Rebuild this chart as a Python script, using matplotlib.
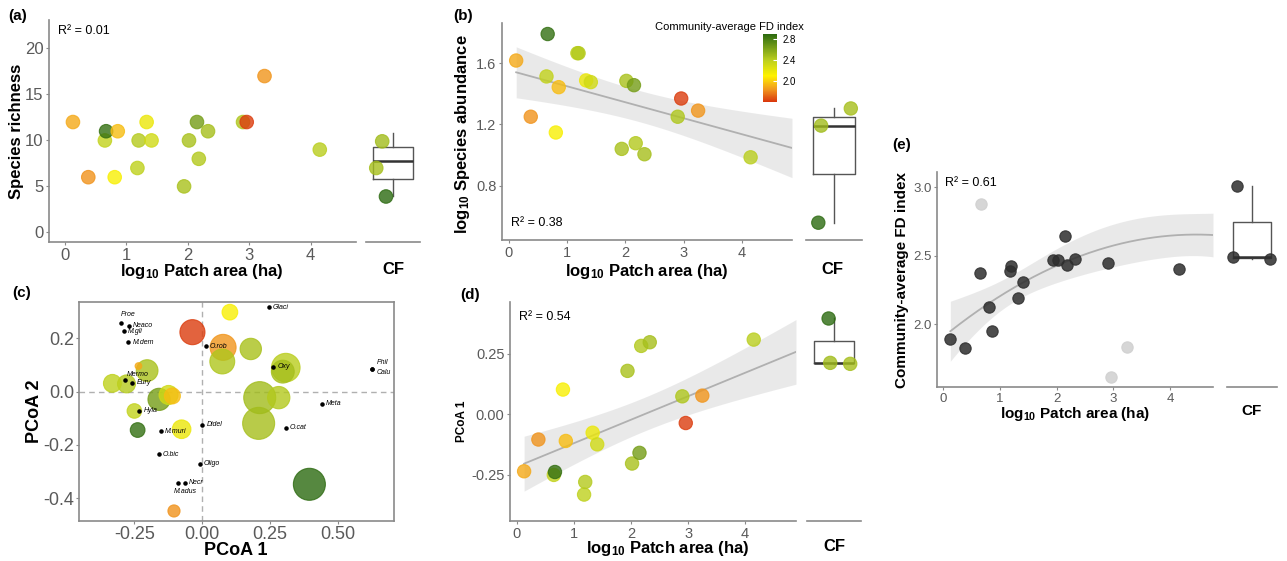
import numpy as np
import matplotlib
matplotlib.use("Agg")
import matplotlib.pyplot as plt
from matplotlib.colors import LinearSegmentedColormap, Normalize
from matplotlib.colorbar import ColorbarBase

plt.rcParams['font.family'] = ['Liberation Sans', 'DejaVu Sans']
plt.rcParams['mathtext.fontset'] = 'custom'
plt.rcParams['mathtext.rm'] = 'Liberation Sans'
plt.rcParams['mathtext.bf'] = 'Liberation Sans:bold'
plt.rcParams['mathtext.it'] = 'Liberation Sans:italic'

# --- data: 19 forest patches ---
log_area = np.array([0.13, 0.38, 0.65, 0.67, 0.81, 0.86, 1.18, 1.20, 1.33, 1.41,
                     1.94, 2.02, 2.15, 2.18, 2.33, 2.90, 2.96, 3.25, 4.15])
richness = np.array([12, 6, 10, 11, 6, 11, 7, 10, 12, 10, 5, 10, 12, 8, 11, 12, 12, 17, 9])
abundance = np.array([1.617, 1.25, 1.513, 1.79, 1.147, 1.443, 1.665, 1.665, 1.487, 1.476,
                      1.04, 1.484, 1.456, 1.077, 1.005, 1.25, 1.369, 1.29, 0.985])
pcoa1 = np.array([-0.235, -0.104, -0.25, -0.238, 0.102, -0.11, -0.331, -0.279, -0.076, -0.124,
                  0.179, -0.203, -0.159, 0.282, 0.297, 0.074, -0.036, 0.077, 0.308])
pcoa2 = np.array([0.096, -0.4475, -0.0725, -0.144, 0.298, -0.016, 0.031, 0.029, -0.141, -0.0125,
                  0.16, 0.079, -0.029, -0.0225, 0.075, 0.113, 0.223, 0.166, 0.09])
fd_index = np.array([1.893, 1.830, 2.375, 2.873, 2.129, 1.949, 2.387, 2.423, 2.190, 2.309,
                     2.465, 2.465, 2.645, 2.430, 2.476, 2.445, 1.616, 1.835, 2.406])
fd_outlier = np.array([False, False, False, True, False, False, False, False, False, False,
                       False, False, False, False, False, False, True, True, False])

# --- continuous forest (CF) sites ---
cf_fd = np.array([2.49, 2.475, 3.005])
cf_richness = np.array([10.8, 7.8, 3.9])
cf_richness_shown = np.array([9.9, 7.0, 3.9])   # jittered positions as drawn
cf_abundance = np.array([1.192, 1.304, 0.558])
cf_pcoa1 = np.array([0.212, 0.208, 0.395])
cf_pcoa2 = np.array([-0.0225, -0.119, -0.3475])
cf_log_area = 5.5

# --- species scores (panel c) ---
sp_names = ['Proe', 'Neaco', 'M.gli', 'M.dem', 'Glaci', 'O.rob', 'Oxy', 'Phil', 'Calu',
            'Mermo', 'Eury', 'Meta', 'Hyla', 'Didel', 'O.cat', 'M.muri', 'O.bic', 'Oligo',
            'Necr', 'M.adus']
sp_x = [-0.300, -0.270, -0.289, -0.273, 0.246, 0.0135, 0.262, 0.627, 0.627,
        -0.283, -0.257, 0.44, -0.232, 0.0, 0.307, -0.152, -0.16, -0.0086, -0.064, -0.091]
sp_y = [0.256, 0.2475, 0.226, 0.185, 0.316, 0.17, 0.094, 0.085, 0.085,
        0.0425, 0.0325, -0.046, -0.0725, -0.125, -0.136, -0.149, -0.234, -0.271, -0.341, -0.341]

W, H = 1287, 561
fig = plt.figure(figsize=(W / 100, H / 100), dpi=100)


def ax_px(l, t, r, b):
    return fig.add_axes([l / W, 1 - b / H, (r - l) / W, (b - t) / H])


cmap = LinearSegmentedColormap.from_list('fd', [
    (0.0, '#d9360c'), (0.19, '#f29a1d'), (0.385, '#fff200'),
    (0.615, '#bccf1e'), (1.0, '#2c6a10')])
norm = Normalize(vmin=1.6, vmax=2.9)
AXC = '#8a8a8a'
TXC = '#5a5a5a'


def style_main(ax, fs):
    for s in ['top', 'right']:
        ax.spines[s].set_visible(False)
    for s in ['left', 'bottom']:
        ax.spines[s].set_color(AXC)
        ax.spines[s].set_linewidth(1.2)
    ax.tick_params(colors=AXC, labelcolor=TXC, labelsize=fs, length=2.5, width=0.8, pad=1.5)


def style_cf(ax):
    for s in ['top', 'right', 'left']:
        ax.spines[s].set_visible(False)
    ax.spines['bottom'].set_color(AXC)
    ax.spines['bottom'].set_linewidth(1.2)
    ax.set_xticks([])
    ax.set_yticks([])
    ax.set_xlim(0.5, 1.5)


def cf_box(ax, vals):
    ax.boxplot([vals], positions=[1], widths=0.75, showfliers=False, showcaps=False,
               boxprops=dict(color='#555555', lw=1.0),
               whiskerprops=dict(color='#555555', lw=1.0),
               medianprops=dict(color='#333333', lw=1.8), zorder=1)
    ax.set_xticks([])


def fit_band(x, y, deg, xs, t):
    X = np.vander(x, deg + 1)
    beta = np.linalg.lstsq(X, y, rcond=None)[0]
    res = y - X @ beta
    s2 = res @ res / (len(x) - deg - 1)
    xtxi = np.linalg.inv(X.T @ X)
    Xs = np.vander(xs, deg + 1)
    fit = Xs @ beta
    se = np.sqrt(s2 * np.einsum('ij,jk,ik->i', Xs, xtxi, Xs))
    return fit, fit - t * se, fit + t * se


def draw_fit(ax, x, y, cf_y, deg, t, xmax):
    # CF sites enter the model at the continuous-forest position
    xf = np.concatenate([x, np.full(len(cf_y), cf_log_area)])
    yf = np.concatenate([y, cf_y])
    xs = np.linspace(x.min(), xmax, 200)
    fit, lo, hi = fit_band(xf, yf, deg, xs, t)
    ax.fill_between(xs, lo, hi, color='#d0d0d0', alpha=0.45, lw=0, zorder=1)
    ax.plot(xs, fit, color='#b0b0b0', lw=1.3, zorder=2)


def label_xy(ax, text, xpx, ypx, axis='x', fs=12):
    if axis == 'x':
        ax.set_xlabel(text, fontsize=fs, fontweight='bold')
        ax.xaxis.set_label_coords(xpx / W, 1 - ypx / H, transform=fig.transFigure)
    else:
        ax.set_ylabel(text, fontsize=fs, fontweight='bold')
        ax.yaxis.set_label_coords(xpx / W, 1 - ypx / H, transform=fig.transFigure)


PT = dict(alpha=0.8, linewidths=0.8, zorder=3)
xlab = r'log$_{\mathbf{10}}$ Patch area (ha)'

# ---------------- (a) ----------------
ax = ax_px(49, 20, 356, 242)
style_main(ax, 12)
ax.scatter(log_area, richness, s=95, c=fd_index, cmap=cmap, norm=norm,
           edgecolors=cmap(norm(fd_index)), **PT)
ax.set_xlim(-0.26, 4.74)
ax.set_ylim(-1.05, 23.1)
ax.set_yticks([0, 5, 10, 15, 20])
ax.set_xticks([0, 1, 2, 3, 4])
ax.text(0.03, 0.95, 'R² = 0.01', transform=ax.transAxes, fontsize=9, va='center')
label_xy(ax, xlab, 202, 262, 'x', 12)
label_xy(ax, 'Species richness', 24, 131, 'y', 12)

axc = ax_px(366, 20, 420, 242)
style_cf(axc)
cf_box(axc, cf_richness)
axc.scatter([0.80, 0.69, 0.87], cf_richness_shown, s=95, c=cf_fd, cmap=cmap, norm=norm,
            edgecolors=cmap(norm(cf_fd)), **PT)
axc.set_xlim(0.5, 1.5)
axc.set_ylim(-1.05, 23.1)
label_xy(axc, 'CF', 393, 262, 'x', 12)

# ---------------- (b) ----------------
ax = ax_px(502, 23, 792, 240)
style_main(ax, 10.5)
draw_fit(ax, log_area, abundance, cf_abundance, 1, 2.086, 4.86)
ax.scatter(log_area, abundance, s=92, c=fd_index, cmap=cmap, norm=norm,
           edgecolors=cmap(norm(fd_index)), **PT)
ax.set_xlim(-0.113, 4.86)
ax.set_ylim(0.445, 1.862)
ax.set_yticks([0.8, 1.2, 1.6])
ax.set_xticks([0, 1, 2, 3, 4])
ax.text(0.03, 0.08, 'R² = 0.38', transform=ax.transAxes, fontsize=9, va='center')
label_xy(ax, xlab, 647, 262, 'x', 12)
label_xy(ax, r'log$_{\mathbf{10}}$ Species abundance', 472, 134, 'y', 12)

axc = ax_px(806, 23, 862, 240)
style_cf(axc)
cf_box(axc, cf_abundance)
axc.scatter([0.77, 1.30, 0.72], cf_abundance, s=92, c=cf_fd, cmap=cmap, norm=norm,
            edgecolors=cmap(norm(cf_fd)), **PT)
axc.set_xlim(0.5, 1.5)
axc.set_ylim(0.445, 1.862)
label_xy(axc, 'CF', 832, 262, 'x', 12)

cax = ax_px(763, 34, 777, 102)
cb = ColorbarBase(cax, cmap=cmap, norm=norm, ticks=[2.0, 2.4, 2.8])
cb.outline.set_visible(False)
cax.tick_params(labelsize=7, color='white', length=3, width=0.8, direction='in', pad=4)
cax.set_yticklabels(['2.0', '2.4', '2.8'])
fig.text(729 / W, 1 - 27 / H, 'Community-average FD index', fontsize=8,
         ha='center', va='center')

# ---------------- (c) ----------------
ax = ax_px(79.3, 302.3, 394.3, 520.7)
for s in ax.spines.values():
    s.set_color(AXC)
    s.set_linewidth(1.2)
ax.tick_params(colors=AXC, labelcolor=TXC, labelsize=13, length=2.5, width=0.8, pad=1)
ax.axhline(0, color='#b0b0b0', ls='--', lw=1, dashes=(4, 3), zorder=0)
ax.axvline(0, color='#b0b0b0', ls='--', lw=1, dashes=(4, 3), zorder=0)

all_p1 = np.concatenate([pcoa1, cf_pcoa1])
all_p2 = np.concatenate([pcoa2, cf_pcoa2])
all_fd = np.concatenate([fd_index, cf_fd])
all_area = np.concatenate([log_area, np.full(3, cf_log_area)])
rad = 10 + 38 * np.sqrt((all_area - all_area.min()) / (all_area.max() - all_area.min()))
sizes = (2 * rad / 3 * 0.72) ** 2
order = np.argsort(-sizes)
ax.scatter(all_p1[order], all_p2[order], s=sizes[order], c=all_fd[order], cmap=cmap, norm=norm,
           edgecolors=cmap(norm(all_fd[order])), alpha=0.8, linewidths=0.8, zorder=2)
ax.scatter(sp_x, sp_y, s=5, color='black', zorder=4)
offs = {'Proe': (0, 4, 'bottom'), 'Phil': (3, 2, 'bottom'), 'Calu': (3, 0, 'top'),
        'Mermo': (1, 2, 'bottom'), 'M.adus': (-3, -4, 'top')}
for n, x, y in zip(sp_names, sp_x, sp_y):
    dx, dy, va = offs.get(n, (3, 0, 'center'))
    ax.annotate(n, (x, y), xytext=(dx, dy), textcoords='offset points', fontsize=5,
                style='italic', va=va, ha='left', zorder=5)
ax.set_xlim(-0.453, 0.708)
ax.set_ylim(-0.484, 0.335)
ax.set_xticks([-0.25, 0, 0.25, 0.5])
ax.set_xticklabels(['-0.25', '0.00', '0.25', '0.50'])
ax.set_yticks([-0.4, -0.2, 0, 0.2])
ax.set_yticklabels(['-0.4', '-0.2', '0.0', '0.2'])
label_xy(ax, 'PCoA 1', 236, 542, 'x', 13)
label_xy(ax, 'PCoA 2', 43, 411, 'y', 13)

# ---------------- (d) ----------------
ax = ax_px(510, 302, 796, 521)
style_main(ax, 10.5)
draw_fit(ax, log_area, pcoa1, cf_pcoa1, 1, 2.086, 4.89)
ax.scatter(log_area, pcoa1, s=92, c=fd_index, cmap=cmap, norm=norm,
           edgecolors=cmap(norm(fd_index)), **PT)
ax.set_xlim(-0.117, 4.89)
ax.set_ylim(-0.44, 0.463)
ax.set_yticks([-0.25, 0, 0.25])
ax.set_yticklabels(['-0.25', '0.00', '0.25'])
ax.set_xticks([0, 1, 2, 3, 4])
ax.text(0.03, 0.93, 'R² = 0.54', transform=ax.transAxes, fontsize=9, va='center')
label_xy(ax, xlab, 668, 539, 'x', 12)
label_xy(ax, 'PCoA 1', 468, 421, 'y', 8.5)

axc = ax_px(807, 302, 861, 521)
style_cf(axc)
cf_box(axc, cf_pcoa1)
axc.scatter([0.93, 1.30, 0.90], cf_pcoa1, s=92, c=cf_fd, cmap=cmap, norm=norm,
            edgecolors=cmap(norm(cf_fd)), **PT)
axc.set_xlim(0.5, 1.5)
axc.set_ylim(-0.44, 0.463)
label_xy(axc, 'CF', 834, 539, 'x', 12)

# ---------------- (e) ----------------
ax = ax_px(937, 172, 1213, 387)
style_main(ax, 9.5)
keep = ~fd_outlier
draw_fit(ax, log_area[keep], fd_index[keep], cf_fd, 2, 2.120, 4.756)
ax.scatter(log_area[keep], fd_index[keep], s=67, color='#2e2e2e',
           edgecolors='#2e2e2e', alpha=0.85, linewidths=0.8, zorder=3)
ax.scatter(log_area[fd_outlier], fd_index[fd_outlier], s=67, color='#cfcfcf',
           edgecolors='#cfcfcf', alpha=0.85, linewidths=0.8, zorder=3)
ax.set_xlim(-0.105, 4.756)
ax.set_ylim(1.542, 3.11)
ax.set_yticks([2.0, 2.5, 3.0])
ax.set_xticks([0, 1, 2, 3, 4])
ax.text(0.03, 0.95, 'R² = 0.61', transform=ax.transAxes, fontsize=9, va='center')
label_xy(ax, xlab, 1075, 405, 'x', 11)
label_xy(ax, 'Community-average FD index', 909, 280, 'y', 11)

axc = ax_px(1227, 172, 1277, 387)
style_cf(axc)
cf_box(axc, cf_fd)
axc.scatter([0.61, 1.35, 0.69], cf_fd, s=67, color='#2e2e2e', edgecolors='#2e2e2e',
            alpha=0.85, linewidths=0.8, zorder=3)
axc.set_xlim(0.5, 1.5)
axc.set_ylim(1.542, 3.11)
label_xy(axc, 'CF', 1252, 404, 'x', 11)

# panel letters
for lab, xp, yp in [('(a)', 8, 16), ('(b)', 453, 16), ('(c)', 12, 293),
                    ('(d)', 460, 295), ('(e)', 892, 145)]:
    fig.text(xp / W, 1 - yp / H, lab, fontsize=11, fontweight='bold', va='center')

fig.savefig('out.png', dpi=100)
